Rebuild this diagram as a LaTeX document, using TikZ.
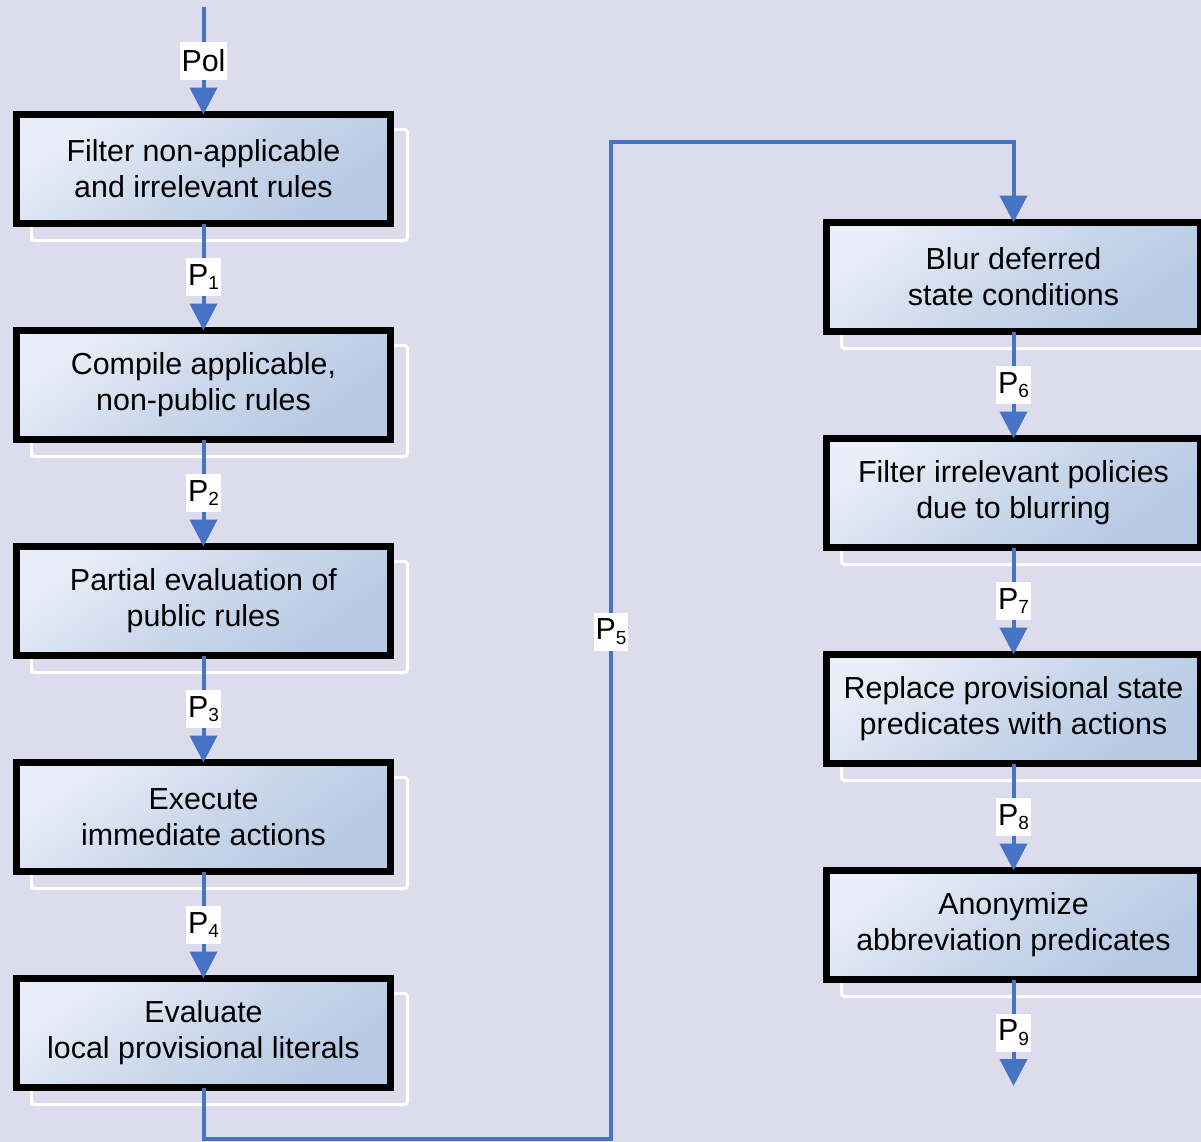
\documentclass[tikz,border=0pt]{standalone}
\usepackage{fontspec}
\setmainfont{Liberation Sans}
\usetikzlibrary{arrows.meta, positioning, backgrounds}
\definecolor{bgcolor}{RGB}{220,220,237}
\definecolor{flowblue}{RGB}{70,115,196}
\definecolor{boxlight}{RGB}{233,238,248}
\definecolor{boxmid}{RGB}{203,216,235}
\definecolor{boxdark}{RGB}{182,200,227}
\newcommand{\boxfont}{\fontsize{15.2}{18}\selectfont}
\newcommand{\psub}[1]{P\raisebox{-2.2pt}{\fontsize{9.5}{9.5}\selectfont #1}}

\tikzset{
  stepbox/.style={draw=black, line width=3.5pt, outer sep=0pt, minimum width=187pt, minimum height=54.5pt,
    align=center, top color=boxlight, bottom color=boxdark, middle color=boxmid, shading angle=35, font=\boxfont},
  flow/.style={draw=flowblue, line width=2pt, -{Triangle[width=13.5pt,length=13.5pt]}},
  lbl/.style={fill=white, text=black, inner xsep=0.8pt, inner ysep=0pt, minimum height=19pt, font=\boxfont},
  shadowline/.style={draw=white, line width=1.5pt, rounded corners=1.5pt},
}

\begin{document}
\begin{tikzpicture}[x=0.5pt, y=-0.5pt, node distance=53.5pt]
  \useasboundingbox (0,0) rectangle (1201,1142);

  % left column
  \node[stepbox] (filter) at (203.5,169) {Filter non-applicable\\and irrelevant rules};
  \node[stepbox, below=of filter] (compile) {Compile applicable,\\non-public rules};
  \node[stepbox, below=of compile] (partial) {Partial evaluation of\\public rules};
  \node[stepbox, below=of partial] (execute) {Execute\\immediate actions};
  \node[stepbox, below=of execute] (evallocal) {Evaluate\\local provisional literals};

  % right column
  \node[stepbox] (blur) at (1013.5,277) {Blur deferred\\state conditions};
  \node[stepbox, below=of blur] (filterirr) {Filter irrelevant policies\\due to blurring};
  \node[stepbox, below=of filterirr] (replace) {Replace provisional state\\predicates with actions};
  \node[stepbox, below=of replace] (anon) {Anonymize\\abbreviation predicates};

  \begin{scope}[on background layer]
    \fill[bgcolor] (0,0) rectangle (1201,1142);
    \foreach \n in {filter,compile,partial,execute,evallocal,blur,filterirr,replace,anon}
      \draw[shadowline] ([shift={(15,15)}]\n.north west) rectangle ([shift={(17,17)}]\n.south east);
  \end{scope}

  \coordinate (start) at (203.5,7);
  \coordinate (low) at (611,1139);
  \coordinate (high) at (611,142);
  \coordinate (out) at (1013.5,1086);

  \draw[flow] (start) -- node[lbl] {Pol} (filter.north);
  \draw[flow] (filter) -- node[lbl] {\psub{1}} (compile);
  \draw[flow] (compile) -- node[lbl] {\psub{2}} (partial);
  \draw[flow] (partial) -- node[lbl] {\psub{3}} (execute);
  \draw[flow] (execute) -- node[lbl] {\psub{4}} (evallocal);
  \draw[flow] (evallocal.south) |- (low) -- node[lbl, pos=0.509] {\psub{5}} (high) -| (blur.north);
  \draw[flow] (blur) -- node[lbl] {\psub{6}} (filterirr);
  \draw[flow] (filterirr) -- node[lbl] {\psub{7}} (replace);
  \draw[flow] (replace) -- node[lbl] {\psub{8}} (anon);
  \draw[flow] (anon) -- node[lbl] {\psub{9}} (out);
\end{tikzpicture}
\end{document}
